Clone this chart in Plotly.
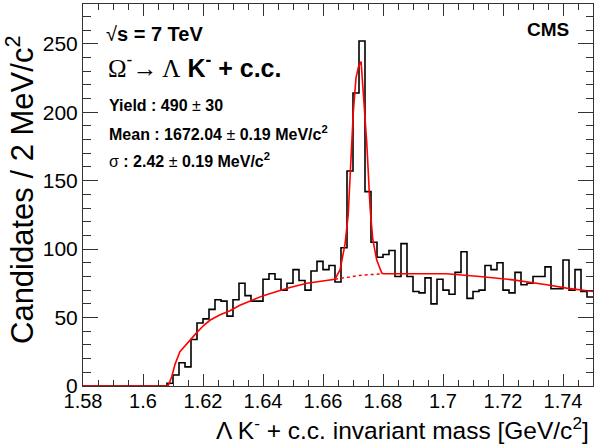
import plotly.graph_objects as go

# ---------------- data ----------------
bin_low = 1.58      # GeV/c^2
bin_width = 0.002   # 2 MeV bins
counts = [0, 0, 0, 0, 0, 0, 0, 0, 0, 0, 0, 0, 0, 0,
          2, 8, 17, 14, 34, 46, 49, 56, 63, 62, 51, 63, 75, 66, 62, 62,
          78, 82, 78, 70, 75, 85, 77, 70, 84, 91, 85, 88, 76, 101, 157, 214,
          252, 142, 105, 94, 96, 99, 80, 104, 80, 69, 68, 79, 60, 78, 70, 67,
          83, 98, 64, 69, 70, 88, 85, 90, 70, 68, 83, 74, 75, 80, 80, 87,
          71, 71, 92, 70, 85, 69, 65]

fit_x = [1.58, 1.6084, 1.6096, 1.6107, 1.6123, 1.6146, 1.6179, 1.6201, 1.6223,
         1.6257, 1.629, 1.6323, 1.6357, 1.6401, 1.6446, 1.649, 1.6546, 1.6579,
         1.664, 1.6657, 1.6673, 1.6684, 1.669, 1.6701, 1.671, 1.6718, 1.6727,
         1.6734, 1.6746, 1.6757, 1.6766, 1.6779, 1.6796, 1.6801, 1.6901, 1.7012,
         1.7123, 1.7234, 1.7346, 1.7412, 1.75]
fit_y = [0, 0, 7, 16, 25, 31, 39, 44, 48, 52, 55, 59, 62, 66, 69, 72, 75, 76,
         78, 85, 103, 125, 152, 200, 225, 233, 237, 216, 177, 130, 107, 92,
         82.5, 82, 82, 82, 80, 77.5, 74, 71.5, 69]

bkg_x = [1.664, 1.668, 1.672, 1.676, 1.6796]
bkg_y = [78, 79.6, 80.7, 81.4, 81.9]

x_tickvals = [1.58, 1.60, 1.62, 1.64, 1.66, 1.68, 1.70, 1.72, 1.74]
x_ticktext = ["1.58", "1.6", "1.62", "1.64", "1.66", "1.68", "1.7", "1.72", "1.74"]
y_tickvals = [0, 50, 100, 150, 200, 250]

# ---------------- figure ----------------
edges = [bin_low + i * bin_width for i in range(len(counts) + 1)]
hist_y = counts + [counts[-1]]

FONT = "Liberation Sans, Arial, Helvetica, sans-serif"
AX = "#333333"

fig = go.Figure()
fig.add_trace(go.Scatter(x=edges, y=hist_y, mode="lines", line_shape="hv",
                         line=dict(color="black", width=1.6), hoverinfo="skip"))
fig.add_trace(go.Scatter(x=bkg_x, y=bkg_y, mode="lines",
                         line=dict(color="red", width=1.5, dash="dot"), hoverinfo="skip"))
fig.add_trace(go.Scatter(x=fit_x, y=fit_y, mode="lines",
                         line=dict(color="red", width=1.6), hoverinfo="skip"))

fig.update_layout(
    width=595, height=444,
    margin=dict(l=83, r=2, t=4, b=58),
    paper_bgcolor="white", plot_bgcolor="white",
    showlegend=False,
    font=dict(family=FONT, color="black"),
)
fig.update_xaxes(
    range=[1.58, 1.75], tickvals=x_tickvals, ticktext=x_ticktext,
    ticks="inside", ticklen=12, tickwidth=1, tickcolor=AX,
    showline=True, linecolor=AX, linewidth=1, mirror="allticks",
    showgrid=False, zeroline=False,
    tickfont=dict(size=20, family=FONT), ticklabelstandoff=-3,
    minor=dict(dtick=0.005, tick0=1.58, ticks="inside", ticklen=6, tickcolor=AX, showgrid=False),
)
fig.update_yaxes(
    range=[0, 279], tickvals=y_tickvals,
    ticks="inside", ticklen=15, tickwidth=1, tickcolor=AX,
    showline=True, linecolor=AX, linewidth=1, mirror="allticks",
    showgrid=False, zeroline=False,
    tickfont=dict(size=21, family=FONT),
    minor=dict(dtick=10, tick0=0, ticks="inside", ticklen=7.5, tickcolor=AX, showgrid=False),
)

def yp(py):
    return (386 - py) / 382.0

def xp(px):
    return (px - 83) / 510.0

ann = []
ann.append(dict(text="Candidates / 2 MeV/c<sup>2</sup>", textangle=-90,
                xref="paper", yref="paper", x=xp(20), y=yp(190),
                xanchor="center", yanchor="middle", showarrow=False,
                font=dict(size=31, family=FONT)))
ann.append(dict(text="\u039b K<sup>-</sup> + c.c. invariant mass [GeV/c<sup>2</sup>]",
                xref="paper", yref="paper", x=xp(591), y=yp(429),
                xanchor="right", yanchor="middle", showarrow=False,
                font=dict(size=24.5, family=FONT)))
ann.append(dict(text="\u221a<b>s = 7 TeV</b>",
                xref="paper", yref="paper", x=xp(104), y=yp(34),
                xanchor="left", yanchor="middle", showarrow=False,
                font=dict(size=20, family=FONT)))
ann.append(dict(text="<span style='font-family:Liberation Serif'>\u03a9</span><sup>-</sup>"
                     "<span style='font-family:Liberation Serif'>\u2192 \u039b</span> "
                     "<b>K<sup>-</sup> + c.c.</b>",
                xref="paper", yref="paper", x=xp(106), y=yp(66),
                xanchor="left", yanchor="middle", showarrow=False,
                font=dict(size=25, family=FONT)))
ann.append(dict(text="<b>Yield : 490</b> \u00b1 <b>30</b>",
                xref="paper", yref="paper", x=xp(107), y=yp(105),
                xanchor="left", yanchor="middle", showarrow=False,
                font=dict(size=16, family=FONT)))
ann.append(dict(text="<b>Mean : 1672.04</b> \u00b1 <b>0.19 MeV/c<sup>2</sup></b>",
                xref="paper", yref="paper", x=xp(107), y=yp(133),
                xanchor="left", yanchor="middle", showarrow=False,
                font=dict(size=16, family=FONT)))
ann.append(dict(text="\u03c3<b> : 2.42</b> \u00b1 <b>0.19 MeV/c<sup>2</sup></b>",
                xref="paper", yref="paper", x=xp(107), y=yp(160),
                xanchor="left", yanchor="middle", showarrow=False,
                font=dict(size=16, family=FONT)))
ann.append(dict(text="<b>CMS</b>",
                xref="paper", yref="paper", x=xp(571), y=yp(29),
                xanchor="right", yanchor="middle", showarrow=False,
                font=dict(size=19, family=FONT)))
fig.update_layout(annotations=ann)

fig.write_html("out.html")
